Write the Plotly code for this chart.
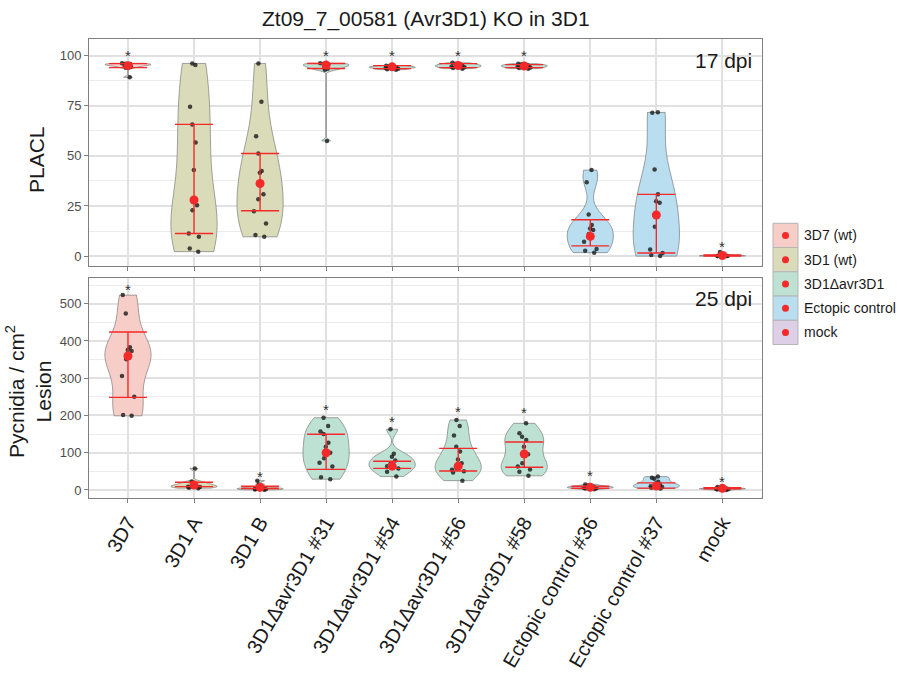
import numpy as np
import plotly.graph_objects as go
from plotly.subplots import make_subplots

# ---------------------------------------------------------------- data
strains = ["3D7", "3D1 A", "3D1 B",
           "3D1Δavr3D1 #31", "3D1Δavr3D1 #54", "3D1Δavr3D1 #56", "3D1Δavr3D1 #58",
           "Ectopic control #36", "Ectopic control #37", "mock"]
strain_group = ["3D7 (wt)", "3D1 (wt)", "3D1 (wt)",
                "3D1Δavr3D1", "3D1Δavr3D1", "3D1Δavr3D1", "3D1Δavr3D1",
                "Ectopic control", "Ectopic control", "mock"]
group_names = ["3D7 (wt)", "3D1 (wt)", "3D1Δavr3D1", "Ectopic control", "mock"]
group_fill = ["#F7CDC7", "#DADCB9", "#BDE2D4", "#B9DEF0", "#DCCFE6"]

# PLACL (%) at 17 dpi, one list of leaves per strain
placl_points = [
    [96.2, 96.0, 95.8, 95.6, 95.4, 95.2, 95.0, 94.5, 94.0, 89.2],
    [96.1, 95.3, 74.5, 65.7, 56.7, 42.9, 25.4, 22.9, 11.3, 9.6, 3.8, 2.2],
    [96.1, 77.0, 59.8, 51.2, 42.4, 41.6, 30.8, 28.3, 22.4, 16.3, 10.5, 9.6],
    [96.2, 96.0, 95.7, 95.4, 95.1, 94.6, 94.0, 93.5, 93.0, 57.4],
    [95.0, 94.8, 94.5, 94.3, 94.2, 94.0, 93.8, 93.5, 93.2, 93.0],
    [96.4, 96.0, 95.6, 95.3, 95.0, 94.8, 94.5, 94.2, 93.8, 93.5],
    [96.0, 95.7, 95.4, 95.1, 94.9, 94.7, 94.4, 94.1, 93.8, 93.5],
    [42.9, 36.8, 20.8, 15.5, 13.8, 13.0, 11.0, 7.2, 3.5, 2.7, 1.7],
    [71.7, 71.5, 43.2, 30.8, 27.4, 26.6, 14.6, 3.3, 1.5, 0.5, 0.0],
    [2.0, 1.0, 0.6, 0.4, 0.3, 0.2, 0.1, 0.0, 0.0, 0.0],
]
placl_center = [95.0, 28.0, 36.2, 95.3, 94.4, 95.1, 94.8, 9.8, 20.5, 0.3]
placl_low = [94.0, 11.3, 22.6, 93.6, 93.5, 94.0, 94.0, 5.1, 1.5, 0.0]
placl_high = [96.0, 65.7, 51.2, 96.1, 95.0, 96.0, 95.5, 18.1, 30.8, 0.6]
placl_star = [102.4, None, None, 102.4, 102.4, 102.4, 102.4, None, None, 7.1]

# Pycnidia per cm2 lesion at 25 dpi
pyc_points = [
    [523, 474, 383, 376, 373, 351, 306, 250, 201, 199],
    [58, 22, 20, 16, 14, 12, 10, 9, 8, 6, 5],
    [25, 15, 8, 6, 5, 4, 3, 2, 1, 0.5],
    [194, 172, 157, 150, 127, 116, 100, 85, 73, 63, 34, 29],
    [163, 97, 89, 79, 72, 64, 58, 49, 36],
    [188, 172, 146, 116, 103, 82, 72, 58, 54, 50, 47, 25],
    [179, 152, 143, 134, 116, 96, 72, 63, 55, 49, 38],
    [15, 12, 10, 9, 8, 7, 6, 5, 4, 2],
    [36, 33, 30, 22, 18, 15, 12, 10, 8, 6, 4],
    [8, 6, 5, 4, 4, 3, 3, 2, 1, 0],
]
pyc_center = [359.5, 13.4, 7.0, 100.0, 64.0, 64.0, 96.6, 7.2, 10.7, 4.5]
pyc_low = [248.7, 9.0, 4.0, 55.4, 58.0, 51.0, 61.0, 4.5, 5.0, 3.0]
pyc_high = [424.0, 20.6, 10.0, 149.4, 77.0, 111.8, 128.8, 10.0, 19.0, 6.0]
pyc_star = [552.7, None, 49.0, 230.0, 196.8, 223.6, 222.0, 52.0, None, 36.0]

# ---------------------------------------------------------------- styling
FONT = "Liberation Sans, Arial, sans-serif"
RED = "#F42A2A"
GRID_MAJOR = "#E1E1E1"
GRID_MINOR = "#ECECEC"
FRAME = "#7F7F7F"
fill_of = dict(zip(group_names, group_fill))

# plot frame in pixels (908 x 677 canvas)
W_PX, H_PX = 908, 677
L_PX, R_PX, T_PX, B_PX = 89, 762, 39, 498
PW, PH = R_PX - L_PX, B_PX - T_PX


def px_x(x):
    return (x - L_PX) / PW


def px_y(y):
    return (B_PX - y) / PH


def nrd0(values):
    """Silverman's rule of thumb as used by R's density()."""
    v = np.asarray(values, dtype=float)
    sd = v.std(ddof=1)
    q75, q25 = np.percentile(v, [75, 25])
    spread = min(sd, (q75 - q25) / 1.34)
    if spread <= 0:
        spread = sd if sd > 0 else 1.0
    return 0.9 * spread * len(v) ** -0.2


fig = make_subplots(rows=2, cols=1, shared_xaxes=True)
annotations = []


def add_panel(row, yref, points, center, low, high, star):
    for name, grp, vals in zip(strains, strain_group, points):
        fig.add_trace(go.Violin(
            x=[name] * len(vals), y=vals, name=name,
            fillcolor=fill_of[grp],
            line=dict(color="#6A6A6A", width=0.6),
            points="all", pointpos=0, jitter=0.35,
            marker=dict(color="rgba(25,25,25,0.8)", size=4.5),
            spanmode="hard", scalemode="width", width=0.7,
            bandwidth=nrd0(vals),
            box_visible=False, meanline_visible=False,
            showlegend=False, hoverinfo="skip",
        ), row=row, col=1)
    c = np.array(center)
    fig.add_trace(go.Scatter(
        x=strains, y=c, mode="markers",
        marker=dict(color=RED, size=9),
        error_y=dict(type="data", symmetric=False,
                     array=np.array(high) - c, arrayminus=c - np.array(low),
                     color=RED, thickness=1.4, width=19),
        showlegend=False, hoverinfo="skip",
    ), row=row, col=1)
    # significance marks
    for name, v in zip(strains, star):
        if v is None:
            continue
        annotations.append(dict(
            text="*", x=name, y=v, xref="x" if row == 1 else "x2", yref=yref,
            xanchor="center", yanchor="middle", yshift=-5, showarrow=False,
            font=dict(size=15, color="#333333", family=FONT)))


add_panel(1, "y", placl_points, placl_center, placl_low, placl_high, placl_star)
add_panel(2, "y2", pyc_points, pyc_center, pyc_low, pyc_high, pyc_star)

axis_common = dict(
    showline=True, mirror=True, linecolor=FRAME, linewidth=1,
    ticks="outside", ticklen=4, tickcolor=FRAME,
    showgrid=True, gridcolor=GRID_MAJOR, gridwidth=1.5,
    zeroline=False,
)

x_common = dict(axis_common, type="category", categoryorder="array",
                categoryarray=strains, range=[-0.59, 9.6])
fig.update_xaxes(**x_common)
fig.update_xaxes(showticklabels=False, row=1, col=1)
fig.update_xaxes(tickangle=-60, tickfont=dict(size=20, color="#1A1A1A", family=FONT),
                 row=2, col=1)

fig.update_yaxes(**axis_common)
fig.update_yaxes(range=[-4.7, 108.3], tickvals=[0, 25, 50, 75, 100],
                 minor=dict(tickvals=[12.5, 37.5, 62.5, 87.5], showgrid=True,
                            gridcolor=GRID_MINOR, gridwidth=1, ticks=""),
                 tickfont=dict(size=13, color="#4D4D4D", family=FONT),
                 row=1, col=1)
fig.update_yaxes(range=[-21.5, 570.3], tickvals=[0, 100, 200, 300, 400, 500],
                 minor=dict(tickvals=[50, 150, 250, 350, 450, 550], showgrid=True,
                            gridcolor=GRID_MINOR, gridwidth=1, ticks=""),
                 tickfont=dict(size=13, color="#4D4D4D", family=FONT),
                 row=2, col=1)

fig.update_layout(
    width=W_PX, height=H_PX,
    margin=dict(l=L_PX, r=W_PX - R_PX, t=T_PX, b=H_PX - B_PX, pad=0, autoexpand=False),
    paper_bgcolor="white", plot_bgcolor="white",
    font=dict(family=FONT, color="#1A1A1A"),
    violinmode="overlay", showlegend=False,
    xaxis=dict(domain=[0, 1]), xaxis2=dict(domain=[0, 1]),
    yaxis=dict(domain=[px_y(265.5), 1]),
    yaxis2=dict(domain=[0, px_y(277.5)]),
)

annotations += [
    dict(text="Zt09_7_00581 (Avr3D1) KO in 3D1", x=0.5, y=px_y(19),
         xanchor="center", yanchor="middle", font=dict(size=21, color="#1A1A1A")),
    dict(text="17 dpi", x=px_x(754), y=px_y(47), xanchor="right", yanchor="top",
         font=dict(size=21, color="#1A1A1A")),
    dict(text="25 dpi", x=px_x(754), y=px_y(285), xanchor="right", yanchor="top",
         font=dict(size=21, color="#1A1A1A")),
    dict(text="PLACL", x=px_x(36), y=px_y(160), textangle=-90,
         xanchor="center", yanchor="middle", font=dict(size=21, color="#1A1A1A")),
    dict(text="Pycnidia / cm<sup>2</sup><br>Lesion", x=px_x(28), y=px_y(392),
         textangle=-90, xanchor="center", yanchor="middle",
         font=dict(size=21, color="#1A1A1A")),
]

# group key drawn beside the panels
shapes = []
key_x0, key_x1 = 773, 798
row_top, row_h = 223.3, 24.25
for i, (gname, gfill) in enumerate(zip(group_names, group_fill)):
    y0 = row_top + i * row_h
    y1 = y0 + row_h
    shapes.append(dict(type="rect", xref="paper", yref="paper",
                       x0=px_x(key_x0), x1=px_x(key_x1), y0=px_y(y1), y1=px_y(y0),
                       fillcolor=gfill, line=dict(color="#B5B5B5", width=1), layer="above"))
    cx, cy = (key_x0 + key_x1) / 2, (y0 + y1) / 2
    shapes.append(dict(type="circle", xref="paper", yref="paper",
                       x0=px_x(cx - 3.5), x1=px_x(cx + 3.5),
                       y0=px_y(cy + 3.5), y1=px_y(cy - 3.5),
                       fillcolor=RED, line=dict(width=0), layer="above"))
    annotations.append(dict(text=gname, x=px_x(802), y=px_y(cy), xanchor="left",
                            yanchor="middle", font=dict(size=14, color="#1A1A1A")))

for a in annotations:
    a.setdefault("xref", "paper")
    a.setdefault("yref", "paper")
    a["showarrow"] = False
fig.update_layout(annotations=annotations, shapes=shapes)

fig.write_html("out.html")
